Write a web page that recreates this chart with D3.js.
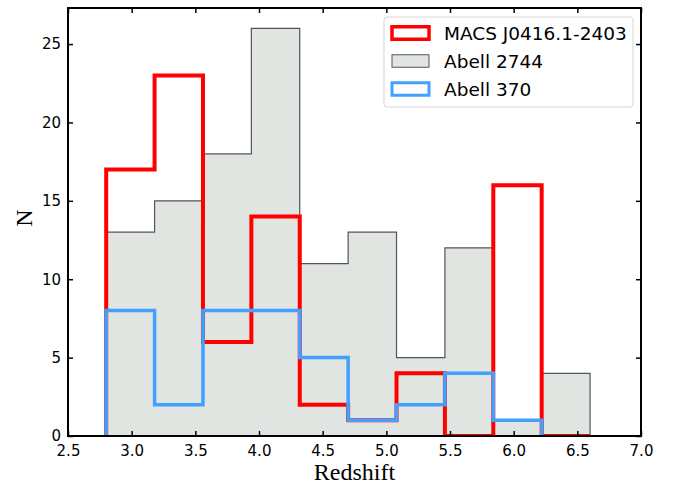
<!DOCTYPE html>
<html>
<head>
<meta charset="utf-8">
<script src="https://cdn.jsdelivr.net/npm/d3@7"></script>
<style>
  body { margin: 0; background: #fff; }
  svg { display: block; }
</style>
</head>
<body>
<svg id="chart" width="680" height="485"></svg>
<script>
// bin edges shared by all three histograms
const binEdges = [2.8, 3.18, 3.56, 3.94, 4.32, 4.70, 5.08, 5.46, 5.84, 6.22, 6.60];
const macsCounts = [17, 23, 6, 14, 2, 1, 4, 0, 16, 0];
const abell2744Counts = [13, 15, 18, 26, 11, 13, 5, 12, 1, 4];
// Abell 370 sample stops at the 6.22 edge
const abell370Counts = [8, 2, 8, 8, 5, 1, 2, 4, 1];
const xTicks = [2.5, 3.0, 3.5, 4.0, 4.5, 5.0, 5.5, 6.0, 6.5, 7.0];
const yTicks = [0, 5, 10, 15, 20, 25];
const seriesNames = ['MACS J0416.1-2403', 'Abell 2744', 'Abell 370'];

const MARGIN = { top: 8, right: 39, bottom: 49, left: 68 };
const WIDTH = 680 - MARGIN.left - MARGIN.right;
const HEIGHT = 485 - MARGIN.top - MARGIN.bottom;

const RED = '#ff0000';
const BLUE = '#42a1ff';
const GRAY_FILL = '#e1e5e2';
const GRAY_EDGE = '#555555';
const TICK_FONT = '"DejaVu Sans", sans-serif';
const LABEL_FONT = '"Liberation Serif", "DejaVu Serif", serif';

const svg = d3.select('#chart');
const g = svg.append('g')
    .attr('transform', `translate(${MARGIN.left},${MARGIN.top})`);

const x = d3.scaleLinear().domain([2.5, 7.0]).range([0, WIDTH]);
const y = d3.scaleLinear().domain([0, 27.3]).range([HEIGHT, 0]);

// step outline from edges and counts, like matplotlib histtype='step'
function stepPoints(counts) {
    const pts = [[binEdges[0], 0]];
    counts.forEach((c, i) => {
        pts.push([binEdges[i], c]);
        pts.push([binEdges[i + 1], c]);
    });
    pts.push([binEdges[counts.length], 0]);
    return pts;
}

const line = d3.line().x(d => x(d[0])).y(d => y(d[1]));

g.append('clipPath').attr('id', 'plot-clip')
    .append('rect').attr('width', WIDTH).attr('height', HEIGHT);

const plot = g.append('g').attr('clip-path', 'url(#plot-clip)');

// Abell 2744: filled step histogram (one path, no seams)
plot.append('path')
    .attr('d', line(stepPoints(abell2744Counts)) + 'Z')
    .attr('fill', GRAY_FILL)
    .attr('stroke', 'none');

plot.append('path')
    .attr('d', line(stepPoints(abell2744Counts)))
    .attr('fill', 'none')
    .attr('stroke', GRAY_EDGE)
    .attr('stroke-width', 1.2);

plot.append('path')
    .attr('d', line(stepPoints(macsCounts)))
    .attr('fill', 'none')
    .attr('stroke', RED)
    .attr('stroke-width', 4)
    .attr('stroke-linejoin', 'miter');

plot.append('path')
    .attr('d', line(stepPoints(abell370Counts)))
    .attr('fill', 'none')
    .attr('stroke', BLUE)
    .attr('stroke-width', 3.5)
    .attr('stroke-linejoin', 'miter');

// axes, ticks pointing inward on all sides
const fmt = d3.format('.1f');
const xAxis = g.append('g')
    .attr('transform', `translate(0,${HEIGHT})`)
    .call(d3.axisBottom(x).tickValues(xTicks).tickFormat(fmt).tickSizeInner(-5).tickSizeOuter(0).tickPadding(9));
const xTop = g.append('g')
    .call(d3.axisTop(x).tickValues(xTicks).tickFormat('').tickSizeInner(-5).tickSizeOuter(0));
const yAxis = g.append('g')
    .call(d3.axisLeft(y).tickValues(yTicks).tickFormat(d3.format('d')).tickSizeInner(-5).tickSizeOuter(0).tickPadding(7));
const yRight = g.append('g')
    .attr('transform', `translate(${WIDTH},0)`)
    .call(d3.axisRight(y).tickValues(yTicks).tickFormat('').tickSizeInner(-5).tickSizeOuter(0));

[xAxis, xTop, yAxis, yRight].forEach(a => {
    a.select('.domain').remove();
    a.selectAll('.tick line').attr('stroke', '#000').attr('stroke-width', 1.5);
    a.selectAll('.tick text')
        .style('font-family', TICK_FONT)
        .style('font-size', '15px')
        .attr('fill', '#000');
});

g.append('rect')
    .attr('width', WIDTH)
    .attr('height', HEIGHT)
    .attr('fill', 'none')
    .attr('stroke', '#000')
    .attr('stroke-width', 2);

g.append('text')
    .attr('x', WIDTH / 2)
    .attr('y', HEIGHT + 44)
    .attr('text-anchor', 'middle')
    .style('font-family', LABEL_FONT)
    .style('font-size', '24px')
    .text('Redshift');

g.append('text')
    .attr('transform', `translate(-36,210) rotate(-90)`)
    .attr('text-anchor', 'middle')
    .style('font-family', LABEL_FONT)
    .style('font-size', '24px')
    .text('N');

// legend
const legend = svg.append('g').attr('transform', 'translate(384,17)');
legend.append('rect')
    .attr('width', 249)
    .attr('height', 90)
    .attr('rx', 3)
    .attr('fill', '#fff')
    .attr('fill-opacity', 0.8)
    .attr('stroke', '#d6d6d6')
    .attr('stroke-width', 1);

const legendStyles = [
    { fill: '#fff', stroke: RED, sw: 3.5 },
    { fill: GRAY_FILL, stroke: GRAY_EDGE, sw: 1 },
    { fill: '#fff', stroke: BLUE, sw: 3 }
];

const items = legend.selectAll('.legend-item')
    .data(seriesNames)
    .enter()
    .append('g')
    .attr('class', 'legend-item')
    .attr('transform', (d, i) => `translate(0,${16 + i * 28})`);

items.append('rect')
    .attr('x', 8)
    .attr('y', -6.25)
    .attr('width', 37)
    .attr('height', 12.5)
    .attr('fill', (d, i) => legendStyles[i].fill)
    .attr('stroke', (d, i) => legendStyles[i].stroke)
    .attr('stroke-width', (d, i) => legendStyles[i].sw);

items.append('text')
    .attr('x', 60)
    .attr('y', 6.75)
    .style('font-family', TICK_FONT)
    .style('font-size', '18.5px')
    .text(d => d);
</script>
</body>
</html>
